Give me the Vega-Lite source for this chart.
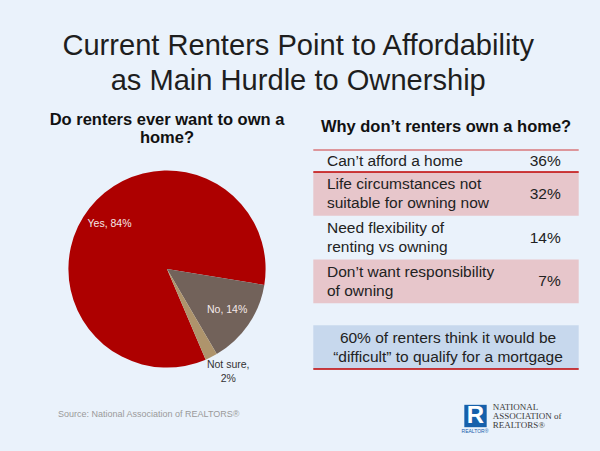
{
  "$schema": "https://vega.github.io/schema/vega-lite/v6.json",
  "padding": {"left": 47, "top": 32, "right": 30, "bottom": 20},
  "background": "#eaf2fb",
  "title": {
    "text": ["Current Renters Point to Affordability", "as Main Hurdle to Ownership"],
    "fontSize": 29.1,
    "fontWeight": "normal",
    "color": "#1e1e1e",
    "lineHeight": 35,
    "anchor": "middle",
    "offset": 15,
    "dx": -15
  },
  "spacing": 6,
  "vconcat": [
    {
      "hconcat": [
        {
          "width": 240,
          "height": 238,
          "title": {
            "text": ["Do renters ever want to own a", "home?"],
            "fontSize": 16.5,
            "fontWeight": "bold",
            "lineHeight": 18,
            "offset": 4,
            "color": "#111111"
          },
          "data": {
            "values": [
              {"answer": "Yes", "share": 84, "label": "Yes, 84%", "order": 3},
              {"answer": "No", "share": 14, "label": "No, 14%", "order": 1},
              {"answer": "Not sure", "share": 2, "label": "Not sure,\n2%", "order": 2}
            ]
          },
          "transform": [
            {"stack": "share", "groupby": [], "sort": [{"field": "order", "order": "ascending"}], "as": ["start", "end"]},
            {"calculate": "(datum.start + datum.end) / 2", "as": "mid"}
          ],
          "layer": [
            {
              "mark": {"type": "arc", "outerRadius": 98.6},
              "encoding": {
                "theta": {"field": "start", "type": "quantitative", "stack": null, "scale": {"domain": [0, 100], "range": [1.733, 8.016]}},
                "theta2": {"field": "end"},
                "color": {
                  "field": "answer",
                  "type": "nominal",
                  "scale": {"domain": ["Yes", "No", "Not sure"], "range": ["#ad0000", "#72625a", "#ae946c"]},
                  "legend": null
                }
              }
            },
            {
              "transform": [{"filter": "datum.answer !== 'Not sure'"}],
              "mark": {"type": "text", "radius": 73, "fontSize": 10.5, "baseline": "middle", "color": "#f4e9e9"},
              "encoding": {
                "theta": {"field": "mid", "type": "quantitative", "stack": null},
                "text": {"field": "label"}
              }
            },
            {
              "transform": [{"filter": "datum.answer === 'Not sure'"}],
              "mark": {"type": "text", "radius": 114, "fontSize": 10.5, "lineHeight": 14, "lineBreak": "\n", "baseline": "middle", "dx": 10, "dy": -6, "color": "#333333"},
              "encoding": {
                "theta": {"field": "mid", "type": "quantitative", "stack": null},
                "text": {"field": "label"}
              }
            }
          ]
        },
        {
          "width": 265.4,
          "height": 219,
          "title": {
            "text": "Why don’t renters own a home?",
            "fontSize": 16.5,
            "fontWeight": "bold",
            "offset": 14,
            "color": "#111111"
          },
          "data": {
            "values": [
              {"rank": 1, "kind": "reason", "text": "Can’t afford a home", "share": 0.36, "lines": 1},
              {"rank": 2, "kind": "reason", "text": "Life circumstances not\nsuitable for owning now", "share": 0.32, "lines": 2},
              {"rank": 3, "kind": "reason", "text": "Need flexibility of\nrenting vs owning", "share": 0.14, "lines": 2},
              {"rank": 4, "kind": "reason", "text": "Don’t want responsibility\nof owning", "share": 0.07, "lines": 2},
              {"rank": 5, "kind": "spacer", "text": "", "lines": 1},
              {"rank": 6, "kind": "note", "text": "60% of renters think it would be\n“difficult” to qualify for a mortgage", "lines": 2}
            ]
          },
          "transform": [
            {"stack": "lines", "groupby": [], "sort": [{"field": "rank", "order": "ascending"}], "as": ["top", "bottom"]},
            {"calculate": "(datum.top + datum.bottom) / 2", "as": "middle"}
          ],
          "layer": [
            {
              "transform": [{"filter": "datum.kind === 'note' || (datum.kind === 'reason' && datum.rank % 2 === 0)"}],
              "mark": {"type": "rect"},
              "encoding": {
                "y": {"field": "top", "type": "quantitative", "scale": {"domain": [0, 10], "reverse": true, "nice": false, "zero": false}, "axis": null},
                "y2": {"field": "bottom"},
                "fill": {"condition": {"test": "datum.kind === 'note'", "value": "#c7d8ed"}, "value": "#e7c6cb"}
              }
            },
            {
              "transform": [{"filter": "datum.rank === 1"}],
              "mark": {"type": "rule", "color": "#d9777b", "strokeWidth": 1.5},
              "encoding": {"y": {"field": "top", "type": "quantitative"}}
            },
            {
              "transform": [{"filter": "datum.rank === 1 || datum.kind === 'note'"}],
              "mark": {"type": "rule", "color": "#c00000", "strokeWidth": 1.5},
              "encoding": {"y": {"field": "bottom", "type": "quantitative"}}
            },
            {
              "transform": [{"filter": "datum.kind === 'reason' && datum.lines === 1"}],
              "mark": {"type": "text", "align": "left", "baseline": "middle", "dx": -119, "fontSize": 15.5, "color": "#222222"},
              "encoding": {"y": {"field": "middle", "type": "quantitative"}, "text": {"field": "text"}}
            },
            {
              "transform": [{"filter": "datum.kind === 'reason' && datum.lines === 2"}],
              "mark": {"type": "text", "align": "left", "baseline": "middle", "dx": -119, "dy": -9.5, "fontSize": 15.5, "lineHeight": 19, "color": "#222222", "lineBreak": "\n"},
              "encoding": {"y": {"field": "middle", "type": "quantitative"}, "text": {"field": "text"}}
            },
            {
              "transform": [{"filter": "datum.kind === 'reason'"}],
              "mark": {"type": "text", "align": "right", "baseline": "middle", "dx": 114.7, "fontSize": 15.5, "color": "#222222"},
              "encoding": {"y": {"field": "middle", "type": "quantitative"}, "text": {"field": "share", "type": "quantitative", "format": ".0%"}}
            },
            {
              "transform": [{"filter": "datum.kind === 'note'"}],
              "mark": {"type": "text", "align": "center", "baseline": "middle", "dx": 2, "dy": -9.5, "fontSize": 15.5, "lineHeight": 19, "color": "#222222", "lineBreak": "\n"},
              "encoding": {"y": {"field": "middle", "type": "quantitative"}, "text": {"field": "text"}}
            }
          ]
        }
      ],
      "spacing": 26.3,
      "bounds": "flush"
    },
    {
      "hconcat": [
        {
          "width": 200,
          "height": 46,
          "data": {"values": [{"note": "Source: National Association of REALTORS®"}]},
          "mark": {"type": "text", "align": "left", "baseline": "middle", "dx": -89, "dy": -3, "fontSize": 9, "color": "#9a9a9a"},
          "encoding": {"text": {"field": "note"}}
        },
        {
          "width": 120,
          "height": 46,
          "data": {"values": [{"badge": "R", "tag": "REALTOR®", "name": "NATIONAL\nASSOCIATION of\nREALTORS®"}]},
          "layer": [
            {
              "mark": {"type": "square", "size": 500, "color": "#1660ab", "opacity": 1, "filled": true, "xOffset": -42.5, "yOffset": -1},
              "encoding": {}
            },
            {
              "mark": {"type": "text", "font": "Liberation Sans", "fontWeight": "bold", "fontSize": 24, "color": "#ffffff", "baseline": "middle", "dx": -42.5, "dy": -1},
              "encoding": {"text": {"field": "badge"}}
            },
            {
              "mark": {"type": "text", "fontSize": 5, "color": "#1660ab", "baseline": "middle", "dx": -43, "dy": 14},
              "encoding": {"text": {"field": "tag"}}
            },
            {
              "mark": {"type": "text", "font": "Liberation Serif", "fontSize": 9, "lineHeight": 9.2, "color": "#3a3a3a", "align": "left", "baseline": "middle", "dx": -25.3, "dy": -10, "lineBreak": "\n"},
              "encoding": {"text": {"field": "name"}}
            }
          ]
        }
      ],
      "spacing": 211
    }
  ],
  "config": {
    "view": {"stroke": null},
    "font": "Liberation Sans"
  }
}
